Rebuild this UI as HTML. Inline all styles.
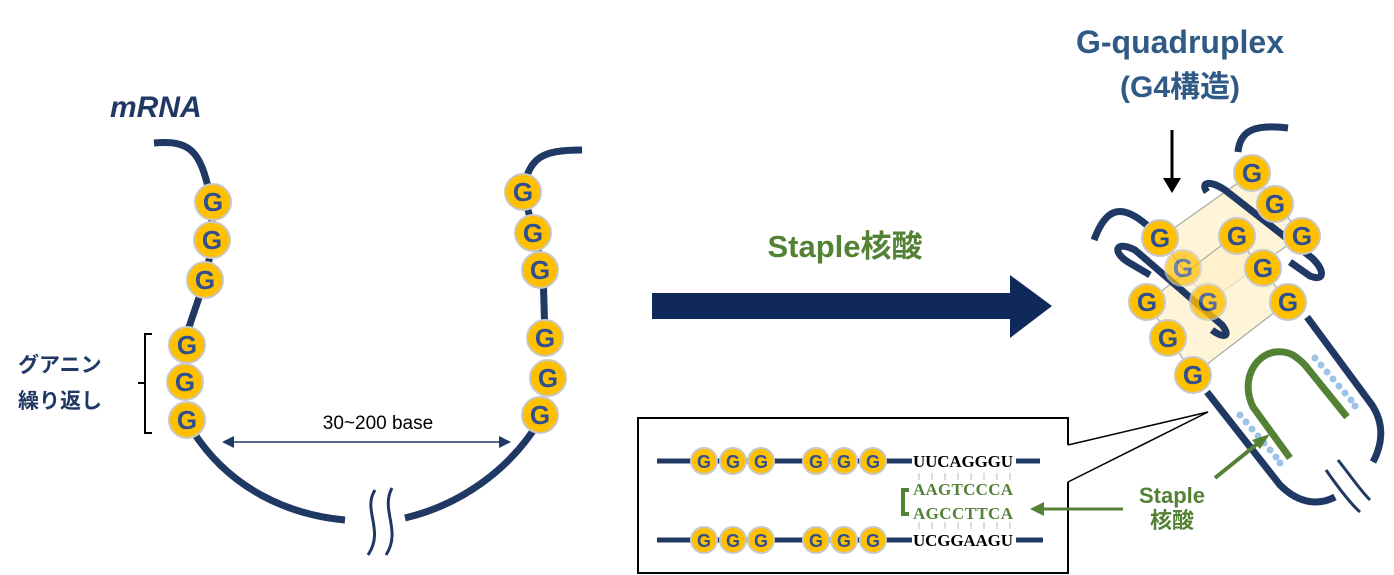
<!DOCTYPE html>
<html><head><meta charset="utf-8"><style>
html,body{margin:0;padding:0;background:#fff;}
svg{display:block;}
text{font-family:"Liberation Sans","Noto Sans CJK JP",sans-serif;}
text.serif{font-family:"Liberation Serif",serif;}
</style></head><body>
<svg width="1394" height="575" viewBox="0 0 1394 575" xmlns="http://www.w3.org/2000/svg">
<defs>
<g id="G"><circle r="18" fill="#FFC000" stroke="#c8c8c8" stroke-width="2"/><text x="0" y="9" text-anchor="middle" font-size="26" font-weight="bold" fill="#2F4F8F">G</text></g>
<g id="g"><circle r="13" fill="#FFC000" stroke="#c8c8c8" stroke-width="2"/><text x="0" y="7" text-anchor="middle" font-size="18" font-weight="bold" fill="#2F4F8F">G</text></g>
</defs>
<g fill="none" stroke="#1F3864" stroke-width="7">
<path d="M154 143 C190 140 200 150 210 195 L213 240 L205 280 L188 330"/>
<path d="M192 430 C230 490 290 515 345 520"/>
<path d="M405 518 C460 505 510 470 540 420"/>
<path d="M545 338 L543 270 L523 190 C530 158 540 150 582 150"/>
</g>
<path d="M375 490 C362 510 385 530 368 555 M392 488 C380 510 402 530 386 555" fill="none" stroke="#1F3864" stroke-width="3"/>
<g>
<use href="#G" x="213" y="202"/><use href="#G" x="212" y="240"/><use href="#G" x="205" y="280"/>
<use href="#G" x="187" y="345"/><use href="#G" x="185" y="382"/><use href="#G" x="187" y="420"/>
<use href="#G" x="523" y="192"/><use href="#G" x="533" y="233"/><use href="#G" x="540" y="270"/>
<use href="#G" x="545" y="338"/><use href="#G" x="548" y="378"/><use href="#G" x="540" y="415"/>
</g>
<text x="110" y="117" font-size="30" font-weight="bold" font-style="italic" fill="#1F3864">mRNA</text>
<text x="18" y="372" font-size="21" font-weight="bold" fill="#1F3864">グアニン</text>
<text x="18" y="408" font-size="21" font-weight="bold" fill="#1F3864">繰り返し</text>
<path d="M152 334 L145 334 L145 433 L152 433 M145 383 L138 383" fill="none" stroke="#000" stroke-width="2"/>
<text x="378" y="429" font-size="19" text-anchor="middle" fill="#000">30~200 base</text>
<line x1="228" y1="442" x2="505" y2="442" stroke="#1F3864" stroke-width="1.5"/>
<path d="M222 442 L234 436 L234 448 Z M511 442 L499 436 L499 448 Z" fill="#1F3864"/>
<path d="M652 293 L1010 293 L1010 275 L1052 306 L1010 338 L1010 319 L652 319 Z" fill="#0F2A5A"/>
<text x="845" y="257" font-size="31" font-weight="bold" text-anchor="middle" fill="#548235">Staple核酸</text>
<text x="1180" y="53" font-size="32" font-weight="bold" text-anchor="middle" fill="#2F5A86">G-quadruplex</text>
<text x="1180" y="97" font-size="30" font-weight="bold" text-anchor="middle" fill="#2F5A86">(G4構造)</text>
<line x1="1172" y1="130" x2="1172" y2="180" stroke="#000" stroke-width="3"/>
<path d="M1163 178 L1181 178 L1172 193 Z" fill="#000"/>
<g fill="none" stroke="#1F3864" stroke-width="7">
<path d="M1238 152 C1240 130 1255 124 1288 128"/>
<path d="M1094 240 C1105 210 1120 200 1150 228"/>
<path d="M1207 392 L1280 485 C1300 505 1320 505 1335 497"/>
<path d="M1307 317 L1372 405 C1385 425 1382 445 1373 462"/>
</g>
<path d="M1338 460 C1350 475 1360 490 1370 500 M1326 470 C1340 490 1352 505 1360 512" fill="none" stroke="#1F3864" stroke-width="3"/>
<g fill="#FDEFC8" fill-opacity="0.7" stroke="#aaa" stroke-width="1.2">
<polygon points="1160,238 1252,173 1302,235 1208,302"/>
<polygon points="1147,302 1235,235 1288,302 1193,375"/>
</g>
<g fill="none" stroke="#1F3864" stroke-width="7">
<path d="M1207 192 C1200 182 1210 180 1225 190 L1312 258 C1325 270 1325 282 1310 276 L1290 262"/>
<path d="M1150 275 L1128 262 C1112 252 1115 240 1135 250 L1222 325 C1232 338 1222 338 1212 330"/>
</g>
<g>
<use href="#G" x="1252" y="173"/><use href="#G" x="1275" y="204"/><use href="#G" x="1302" y="236"/>
<use href="#G" x="1160" y="238"/><use href="#G" x="1237" y="236"/><use href="#G" x="1183" y="268" opacity="0.7"/>
<use href="#G" x="1263" y="268"/><use href="#G" x="1147" y="302"/><use href="#G" x="1208" y="302" opacity="0.8"/>
<use href="#G" x="1288" y="302"/><use href="#G" x="1168" y="338"/><use href="#G" x="1193" y="375"/>
</g>
<path d="M1290 458 L1253 407 C1240 380 1255 355 1275 352 C1290 350 1298 358 1305 365 L1347 417" fill="none" stroke="#548235" stroke-width="7"/>
<g fill="#9DC3E6">
<circle cx="1240" cy="415" r="3.5"/><circle cx="1246" cy="422" r="3.5"/><circle cx="1252" cy="429" r="3.5"/><circle cx="1258" cy="436" r="3.5"/><circle cx="1264" cy="443" r="3.5"/><circle cx="1270" cy="450" r="3.5"/><circle cx="1276" cy="457" r="3.5"/><circle cx="1280" cy="463" r="3.5"/>
<circle cx="1315" cy="358" r="3.5"/><circle cx="1321" cy="365" r="3.5"/><circle cx="1327" cy="372" r="3.5"/><circle cx="1333" cy="379" r="3.5"/><circle cx="1339" cy="386" r="3.5"/><circle cx="1345" cy="393" r="3.5"/><circle cx="1351" cy="400" r="3.5"/><circle cx="1355" cy="406" r="3.5"/>
</g>
<line x1="1215" y1="478" x2="1262" y2="440" stroke="#548235" stroke-width="4"/>
<path d="M1270 434 L1252 440 L1260 449 Z" fill="#548235"/>
<text x="1172" y="503" font-size="22" font-weight="bold" text-anchor="middle" fill="#548235">Staple</text>
<text x="1172" y="528" font-size="22" font-weight="bold" text-anchor="middle" fill="#548235">核酸</text>
<path d="M1068 445 L1068 418 L638 418 L638 573 L1068 573 L1068 482" fill="none" stroke="#000" stroke-width="2"/>
<path d="M1068 445 L1208 412 L1068 482" fill="none" stroke="#000" stroke-width="1.5"/>
<g stroke="#1F3864" stroke-width="5">
<line x1="657" y1="461" x2="1040" y2="461"/>
<line x1="657" y1="540" x2="1043" y2="540"/>
</g>
<rect x="912" y="450" width="104" height="22" fill="#fff"/>
<rect x="912" y="529" width="104" height="22" fill="#fff"/>
<g>
<use href="#g" x="704" y="461"/><use href="#g" x="733" y="461"/><use href="#g" x="761" y="461"/>
<use href="#g" x="816" y="461"/><use href="#g" x="844" y="461"/><use href="#g" x="873" y="461"/>
<use href="#g" x="704" y="540"/><use href="#g" x="733" y="540"/><use href="#g" x="761" y="540"/>
<use href="#g" x="816" y="540"/><use href="#g" x="844" y="540"/><use href="#g" x="873" y="540"/>
</g>
<g font-size="17" font-weight="bold">
<text class="serif" x="913" y="467" fill="#000" textLength="100">UUCAGGGU</text>
<text class="serif" x="913" y="495" fill="#548235" textLength="100">AAGTCCCA</text>
<text class="serif" x="913" y="519" fill="#548235" textLength="100">AGCCTTCA</text>
<text class="serif" x="913" y="546" fill="#000" textLength="100">UCGGAAGU</text>
</g>
<g stroke="#bbb" stroke-width="1">
<path d="M919 473v7M932 473v7M945 473v7M958 473v7M971 473v7M984 473v7M997 473v7M1010 473v7"/>
<path d="M919 522v7M932 522v7M945 522v7M958 522v7M971 522v7M984 522v7M997 522v7M1010 522v7"/>
</g>
<path d="M909 490 L903 490 L903 514 L909 514" fill="none" stroke="#548235" stroke-width="4"/>
<line x1="1123" y1="509" x2="1040" y2="509" stroke="#548235" stroke-width="3"/>
<path d="M1030 509 L1044 502 L1044 516 Z" fill="#548235"/>
</svg>
</body></html>
